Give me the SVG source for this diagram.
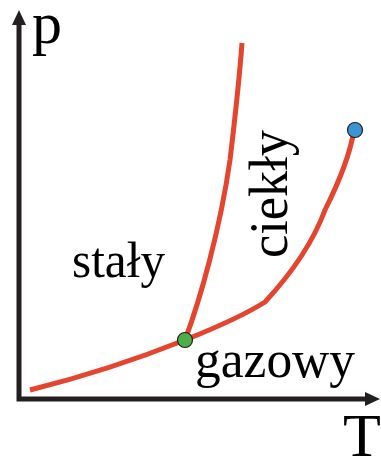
<svg xmlns="http://www.w3.org/2000/svg" width="381" height="459" viewBox="0 0 381 459">
<style>
.axis{stroke:#231f20;stroke-width:5;fill:none}
.head{fill:#231f20}
.curve{stroke:#e5452e;stroke-width:5;fill:none;stroke-linejoin:round}
.pt{stroke:#231f20;stroke-width:1.2}
text{font-family:'Liberation Serif','Times New Roman',serif;fill:#000}
</style>
<rect width="381" height="459" fill="#fff"/>
<g id="connectors">
<path class="curve" d="M30,390 Q110,370 185,340"/>
<path class="curve" d="M185,340 C200,300 220,230 230,160 C236,110 240,70 242,43"/>
<path class="curve" d="M185,340 Q240,318 265,302 C290,275 312,245 325,210 C340,180 350,155 354,130"/>
</g>
<g id="axes">
<path class="axis" d="M19,24 V399 H366"/>
<polygon class="head" points="19,10 26,25 12,25"/>
<polygon class="head" points="380,399 365,392 365,406"/>
</g>
<g id="triple-point"><circle class="pt" cx="185" cy="340" r="7.5" fill="#4caf48"/></g>
<g id="critical-point"><circle class="pt" cx="355" cy="130" r="7.5" fill="#3a95d4"/></g>
<g id="label-p"><text x="32" y="43" font-size="60">p</text></g>
<g id="label-T"><text x="343" y="456" font-size="62">T</text></g>
<g id="label-staly"><text x="72" y="277" font-size="50" textLength="93" lengthAdjust="spacingAndGlyphs">stały</text></g>
<g id="label-ciekly"><text font-size="54" transform="translate(287,258) rotate(-90)" textLength="128" lengthAdjust="spacingAndGlyphs">ciekły</text></g>
<g id="label-gazowy"><text x="195" y="377" font-size="53" textLength="160" lengthAdjust="spacingAndGlyphs">gazowy</text></g>
</svg>
